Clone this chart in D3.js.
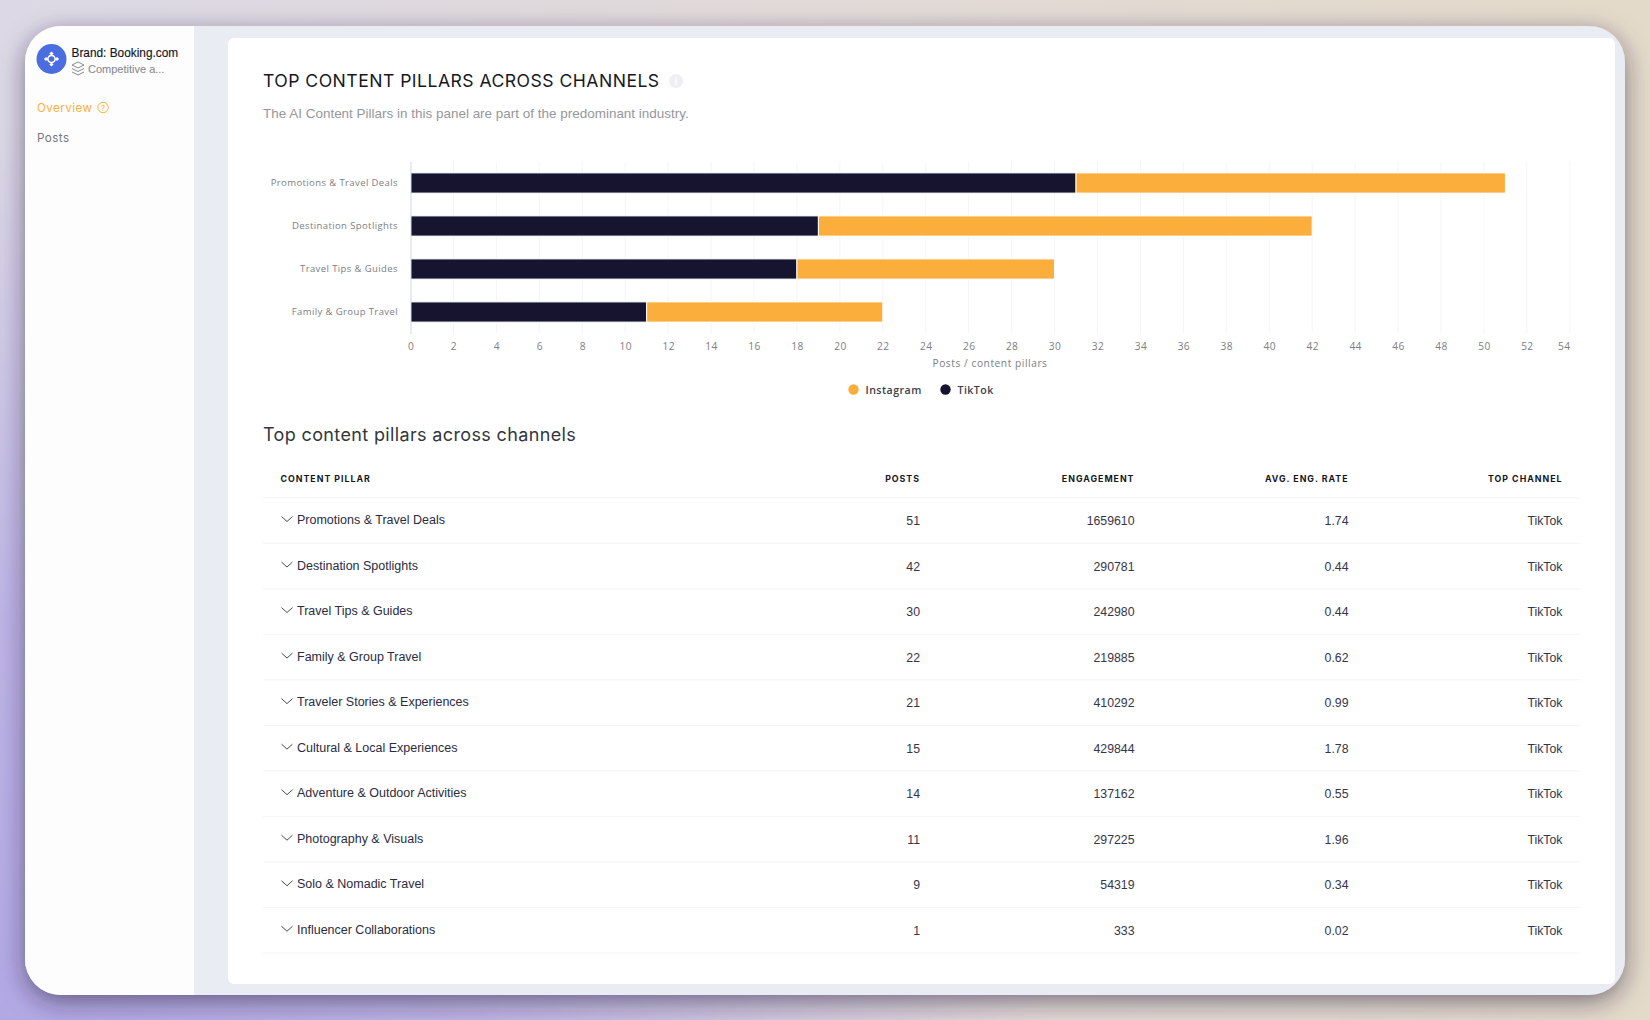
<!DOCTYPE html>
<html>
<head>
<meta charset="utf-8">
<script src="https://cdn.jsdelivr.net/npm/d3@7"></script>
<style>
  html, body { margin: 0; padding: 0; width: 1650px; height: 1020px; overflow: hidden; }
  body {
    background:
      radial-gradient(ellipse 1050px 900px at 0% 100%, #b2a8e4 0%, rgba(178,168,228,0.75) 45%, rgba(178,168,228,0) 100%),
      linear-gradient(90deg, #dcd9e6 0%, #e2dad8 50%, #e4dac9 100%);
  }
  svg { display: block; }
</style>
</head>
<body>
<div id="chart"></div>
<script>
  // chart data
  const pillars = ["Promotions & Travel Deals", "Destination Spotlights", "Travel Tips & Guides", "Family & Group Travel"];
  const tiktokPosts = [31, 19, 18, 11];
  const instagramPosts = [20, 23, 12, 11];
  const xTicks = [0, 2, 4, 6, 8, 10, 12, 14, 16, 18, 20, 22, 24, 26, 28, 30, 32, 34, 36, 38, 40, 42, 44, 46, 48, 50, 52, 54];

  // table data
  const columns = ["CONTENT PILLAR", "POSTS", "ENGAGEMENT", "AVG. ENG. RATE", "TOP CHANNEL"];
  const rowNames = ["Promotions & Travel Deals", "Destination Spotlights", "Travel Tips & Guides", "Family & Group Travel",
    "Traveler Stories & Experiences", "Cultural & Local Experiences", "Adventure & Outdoor Activities",
    "Photography & Visuals", "Solo & Nomadic Travel", "Influencer Collaborations"];
  const rowPosts = [51, 42, 30, 22, 21, 15, 14, 11, 9, 1];
  const rowEngagement = [1659610, 290781, 242980, 219885, 410292, 429844, 137162, 297225, 54319, 333];
  const rowRate = ["1.74", "0.44", "0.44", "0.62", "0.99", "1.78", "0.55", "1.96", "0.34", "0.02"];
  const rowChannel = ["TikTok", "TikTok", "TikTok", "TikTok", "TikTok", "TikTok", "TikTok", "TikTok", "TikTok", "TikTok"];

  const headFont = "Inter, 'Open Sans', sans-serif";
  const bodyFont = "'Liberation Sans', Arial, sans-serif";
  const chartFont = "'Open Sans', sans-serif";
  const navy = "#16142f";
  const orange = "#fbae3c";

  const svg = d3.select("#chart").append("svg").attr("width", 1650).attr("height", 1020);

  // card shadow
  const defs = svg.append("defs");
  const shadow = defs.append("filter").attr("id", "cardShadow")
    .attr("x", "-5%").attr("y", "-5%").attr("width", "110%").attr("height", "110%");
  shadow.append("feDropShadow").attr("dx", 0).attr("dy", 7).attr("stdDeviation", 12)
    .attr("flood-color", "#2a2440").attr("flood-opacity", 0.55);
  defs.append("clipPath").attr("id", "cardClip").append("rect")
    .attr("x", 25).attr("y", 26).attr("width", 1600).attr("height", 969).attr("rx", 36);

  // app frame
  svg.append("rect").attr("x", 25).attr("y", 26).attr("width", 1600).attr("height", 969).attr("rx", 36)
    .attr("fill", "#e9ecf3").attr("filter", "url(#cardShadow)");
  const frame = svg.append("g").attr("clip-path", "url(#cardClip)");
  frame.append("rect").attr("x", 25).attr("y", 26).attr("width", 169).attr("height", 969).attr("fill", "#fdfdfe");
  frame.append("rect").attr("x", 228).attr("y", 38).attr("width", 1387).attr("height", 946).attr("rx", 6).attr("fill", "#fff");

  // sidebar
  const side = svg.append("g");
  side.append("circle").attr("cx", 51.5).attr("cy", 59).attr("r", 15).attr("fill", "#4a6ee0");
  side.append("circle").attr("cx", 51.5).attr("cy", 59).attr("r", 3.6).attr("fill", "none").attr("stroke", "#fff").attr("stroke-width", 1.6);
  [[0, -5.5], [0, 5.5], [-5.5, 0], [5.5, 0]].forEach(p => {
    side.append("rect").attr("x", 51.5 + p[0] - 1.5).attr("y", 59 + p[1] - 1.5).attr("width", 3).attr("height", 3)
      .attr("fill", "#fff").attr("transform", `rotate(45 ${51.5 + p[0]} ${59 + p[1]})`);
  });
  side.append("text").attr("x", 71.5).attr("y", 57).attr("font-family", bodyFont).attr("font-size", 11.85)
    .attr("fill", "#15151f").attr("stroke", "#15151f").attr("stroke-width", 0.15).text("Brand: Booking.com");
  // layers icon
  [[0], [3.5], [7]].forEach((d, i) => {
    side.append("path")
      .attr("d", i === 0
        ? `M72 ${65 + d[0]} l6 -3 l6 3 l-6 3 z`
        : `M72 ${65 + d[0]} l6 3 l6 -3`)
      .attr("fill", "none").attr("stroke", "#8a8a8e").attr("stroke-width", 1);
  });
  side.append("text").attr("x", 88).attr("y", 72.5).attr("font-family", bodyFont).attr("font-size", 11)
    .attr("fill", "#8b8b90").attr("stroke", "#8b8b90").attr("stroke-width", 0.1).text("Competitive a...");
  side.append("text").attr("x", 37).attr("y", 112).attr("font-family", headFont).attr("font-size", 11.7)
    .attr("letter-spacing", 0.4).attr("fill", "#fbb040").text("Overview");
  side.append("circle").attr("cx", 103).attr("cy", 107.5).attr("r", 5.2).attr("fill", "none").attr("stroke", "#fbb040");
  side.append("text").attr("x", 103).attr("y", 110.5).attr("text-anchor", "middle").attr("font-family", headFont)
    .attr("font-size", 8).attr("fill", "#fbb040").text("?");
  side.append("text").attr("x", 37).attr("y", 141.5).attr("font-family", headFont).attr("font-size", 11.7)
    .attr("letter-spacing", 0.4).attr("fill", "#77777c").text("Posts");

  // panel title
  svg.append("text").attr("x", 263).attr("y", 87).attr("font-family", headFont).attr("font-size", 17.6)
    .attr("letter-spacing", 0.47).attr("fill", "#17171f").text("TOP CONTENT PILLARS ACROSS CHANNELS");
  svg.append("circle").attr("cx", 676).attr("cy", 81).attr("r", 7).attr("fill", "#eeeff2");
  svg.append("text").attr("x", 676).attr("y", 85).attr("text-anchor", "middle").attr("font-family", bodyFont)
    .attr("font-size", 10).attr("font-weight", "bold").attr("fill", "#fff").text("i");
  svg.append("text").attr("x", 263).attr("y", 118.2).attr("font-family", bodyFont).attr("font-size", 13.47)
    .attr("fill", "#96969c").text("The AI Content Pillars in this panel are part of the predominant industry.");

  // bar chart
  const x = d3.scaleLinear().domain([0, 54]).range([410.5, 1569.8]);
  const y = d3.scaleBand().domain(pillars).range([161.5, 333.5]).paddingInner(0.53).paddingOuter(0.265);
  const stackRows = pillars.map((p, i) => ({ pillar: p, TikTok: tiktokPosts[i], Instagram: instagramPosts[i] }));
  const layers = d3.stack().keys(["TikTok", "Instagram"])(stackRows);
  const color = d3.scaleOrdinal().domain(["Instagram", "TikTok"]).range([orange, navy]);

  // vertical grid
  svg.append("g").selectAll("line").data(xTicks.slice(1)).enter().append("line")
    .attr("x1", d => x(d)).attr("x2", d => x(d)).attr("y1", 161.5).attr("y2", 333.5)
    .attr("stroke", "#f4f5f8");

  svg.append("g").selectAll("g").data(layers).enter().append("g")
    .attr("fill", d => color(d.key))
    .selectAll("rect").data(d => d).enter().append("rect")
    .attr("x", d => x(d[0]))
    .attr("y", d => y(d.data.pillar))
    .attr("width", d => x(d[1]) - x(d[0]))
    .attr("height", y.bandwidth())
    .attr("stroke", "#fff").attr("stroke-width", 1);

  // axis line and labels
  const yAxis = svg.append("g").attr("transform", "translate(410.5,0)").call(d3.axisLeft(y).tickSize(0).tickPadding(12.5));
  yAxis.select(".domain").attr("stroke", "#ccd6eb");
  yAxis.selectAll("text").attr("font-family", chartFont).attr("font-size", 9.5).attr("letter-spacing", 0.4)
    .attr("fill", "#7d7d84").attr("dy", "0.36em");

  const xAxis = svg.append("g").attr("transform", "translate(0,333.5)")
    .call(d3.axisBottom(x).tickValues(xTicks).tickSize(0).tickPadding(9));
  xAxis.select(".domain").remove();
  xAxis.selectAll("text").attr("font-family", chartFont).attr("font-size", 10.2).attr("letter-spacing", 0.4)
    .attr("fill", "#7d7d84")
    .attr("dx", d => d === 54 ? -6 : 0);

  svg.append("text").attr("x", 990).attr("y", 366.5).attr("text-anchor", "middle").attr("font-family", chartFont)
    .attr("font-size", 10.2).attr("letter-spacing", 0.55).attr("fill", "#7d7d84").text("Posts / content pillars");

  // legend
  const legend = svg.append("g").selectAll("g").data(color.domain()).enter().append("g")
    .attr("transform", (d, i) => `translate(${853.5 + i * 92},389.5)`);
  legend.append("circle").attr("r", 5.2).attr("fill", d => color(d));
  legend.append("text").attr("x", 12).attr("y", 4).attr("font-family", chartFont).attr("font-size", 10.6)
    .attr("font-weight", 600).attr("letter-spacing", 0.45).attr("fill", "#3d3d47").text(d => d);

  // table
  svg.append("text").attr("x", 263).attr("y", 441).attr("font-family", headFont).attr("font-size", 18)
    .attr("letter-spacing", 0.36).attr("fill", "#33373d").text("Top content pillars across channels");

  const colRight = [null, 920, 1134.5, 1348.5, 1562.5];
  svg.append("g").selectAll("text").data(columns).enter().append("text")
    .attr("x", (d, i) => i === 0 ? 280.5 : colRight[i])
    .attr("y", 481.5)
    .attr("text-anchor", (d, i) => i === 0 ? "start" : "end")
    .attr("font-family", headFont).attr("font-size", 8.8).attr("font-weight", 700)
    .attr("letter-spacing", 1).attr("fill", "#15151f").text(d => d);

  const rowY = d3.scalePoint().domain(d3.range(rowNames.length + 1)).range([497.7, 953]);
  svg.append("g").selectAll("line").data(rowY.domain()).enter().append("line")
    .attr("x1", 263).attr("x2", 1580).attr("y1", d => rowY(d)).attr("y2", d => rowY(d))
    .attr("stroke", "#f3f4f6");

  const rows = svg.append("g").selectAll("g").data(rowNames).enter().append("g")
    .attr("transform", (d, i) => `translate(0,${rowY(i)})`);
  rows.append("path").attr("d", "M281.5 18.8 l5.5 5 l5.5 -5").attr("fill", "none").attr("stroke", "#4a4a55").attr("stroke-width", 1);
  rows.append("text").attr("x", 297).attr("y", 26.3).attr("font-family", bodyFont).attr("font-size", 12.5)
    .attr("fill", "#2b2b42").text(d => d);

  const cells = [rowPosts, rowEngagement, rowRate, rowChannel];
  cells.forEach((values, c) => {
    rows.append("text").attr("x", colRight[c + 1]).attr("y", 27.5).attr("text-anchor", "end")
      .attr("font-family", bodyFont).attr("font-size", 12.3).attr("fill", "#35354a")
      .text((d, i) => values[i]);
  });
</script>
</body>
</html>
